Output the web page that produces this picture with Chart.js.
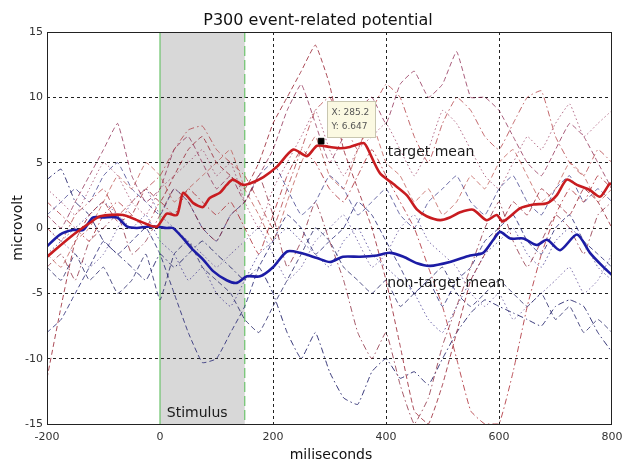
<!DOCTYPE html>
<html>
<head>
<meta charset="utf-8">
<title>P300 event-related potential</title>
<script src="https://cdn.jsdelivr.net/npm/chart.js@4/dist/chart.umd.min.js"></script>
<style>
  html,body{margin:0;padding:0;background:#fff;}
  #wrap{width:623px;height:463px;}
</style>
</head>
<body>
<div id="wrap"><canvas id="erp" width="623" height="463"></canvas></div>
<script>
// ---------- data ----------
const xTicks = [-200, 0, 200, 400, 600, 800];
const yTicks = [-15, -10, -5, 0, 5, 10, 15];
const stimulusWindow = [0, 150];

// single trials sampled every 25 ms
const trialX = [-200,-175,-150,-125,-100,-75,-50,-25,0,25,50,75,100,125,150,175,200,225,250,275,300,
  325,350,375,400,425,450,475,500,525,550,575,600,625,650,675,700,725,750,775,800];

const targetTrial1 = [-11.5,-6,-1,1,2,0.5,1,3,2,4,6,7,5,4,3,5,8,10,12,14,11,6,3,0,-4,-9,-14,-15,-12,-8,-4,-2,0,2,1,3,2,1,3,2,0];
const targetTrial2 = [1,0,2,4,6,8,4,2,3,6,7,5,3,4,2,4,6,9,11,8,5,7,9,10,8,11,12,10,11,13.5,10,10,9,7,5,4,6,8,7,5,3];
const targetTrial3 = [0,-1,1,2,3,1,2,3,4,6,7.5,7.8,6,5,4,2,0,3,6,9,10,8,6,9,11,10,7,5,8,10,9,7,6,8,10,10.5,7,5,4,6,5];
const targetTrial4 = [2,1,0,-1,1,2,1,0,2,1,3,2,1,2,0,-2,1,4,6,5,3,2,4,6,4,2,0,-3,-6,-10,-14,-15,-15,-11,-6,-2,1,3,2,4,3];
const targetTrial5 = [-2,-3,-1,0,2,4,3,5,4,2,3,4,5,6,3,1,-1,2,5,7,4,3,6,8,5,4,2,3,1,2,4,3,5,6,4,2,3,5,4,2,3];
const targetTrial6 = [-3,-2,-4,-1,0,1,-2,-1,1,3,2,0,-1,1,2,4,1,-3,-1,2,-1,-4,-8,-10,-8,-12,-15,-13,-9,-6,-3,0,2,-1,-3,-1,1,0,-2,1,2];
const targetTrial7 = [3,2,1,3,5,4,2,1,3,4,5,6,4,5,2,0,3,5,7,9,6,4,6,7,8,6,4,6,9,8,6,4,3,5,7,6,8,9.5,7,8,9];

const nonTargetTrial1 = [3.7,4.5,2,1,-1,-2,-3,-4,-2,-3,-2,-1,-2,-3,-4,-3,-5,-8,-10,-8,-11,-13,-13.5,-11,-10,-11.5,-11,-12,-10,-8,-6.5,-5.5,-6,-6.5,-7,-7.5,-6,-5.5,-6,-8,-9.5];
const nonTargetTrial2 = [-8,-7,-5,-3,-1,-2,-1,0,-2,-5,-8,-10.3,-10,-8,-6,-3,-1,1,0,-2,-1,0,2,1,-1,-3,-5,-4,-6,-4,-3,-1,0,1,-1,-2,0,1,-1,-2,-3];
const nonTargetTrial3 = [-2,-1,0,1,2,1,0,1,-1,-2,-4,-3,-5,-6,-4,-2,-1,0,-1,-2,-3,-1,0,-2,-3,-4,-5,-7,-8,-6,-4,-2,-1,0,-2,-3,-1,0,-1,-3,-4];
const nonTargetTrial4 = [1,2,3,2,4,5,3,2,1,3,2,0,-1,1,2,4,5,3,1,2,4,3,1,2,3,1,0,2,3,4,2,1,3,4,2,1,3,4,2,3,2];
const nonTargetTrial5 = [-3,-4,-2,-4,-3,-5,-4,-2,-5.5,-2,-1,-3,-4,-5,-7,-8,-6,-4,-2,0,-1,-3,-4,-5,-4,-6,-5,-4,-3,-5,-6,-5,-4,-5,-6,-5,-7,-6,-8,-7,-8];
const nonTargetTrial6 = [0,-1,-2,-3,-2,0,2,3,1,0,-1,-2,-3,-2,-1,0,-2,-4,-3,-1,0,1,-1,-3,-2,0,1,-1,-2,-3,-5,-6,-5,-7,-6,-5,-4,-3,-5,-4,-2];

// grand averages
const targetMeanX = [-200,-159,-124,-106,-65,-35,-6,12,30,41,59,76,88,106,118,129,147,159,183,207,236,260,278,301,319,336,360,366,389,412,437,455,472,496,513,531,554,578,596,607,637,661,685,702,720,738,761,779,796,800];
const targetMeanY = [-2.2,-0.7,0.4,0.9,1.0,0.5,0.1,1.1,1.0,2.7,1.9,1.6,2.3,2.7,3.3,3.7,3.3,3.4,3.9,4.7,6.0,5.5,6.3,6.2,6.1,6.2,6.5,6.2,4.2,3.4,2.5,1.4,0.9,0.6,0.8,1.2,1.4,0.6,1.0,0.5,1.5,1.8,1.9,2.5,3.7,3.3,2.9,2.4,3.4,3.3];
const nonTargetMeanX = [-200,-177,-154,-136,-119,-101,-76,-58,-41,-23,-6,12,23,41,59,76,94,118,136,154,177,200,225,248,278,301,324,354,384,407,431,455,478,513,549,572,590,602,620,643,667,685,708,738,761,785,800];
const nonTargetMeanY = [-1.4,-0.5,-0.15,-0.15,0.8,0.8,0.8,0.1,0,0.1,0.1,0,0,-0.8,-1.7,-2.4,-3.3,-4.0,-4.2,-3.7,-3.7,-3.0,-1.8,-1.9,-2.3,-2.6,-2.2,-2.2,-2.1,-1.9,-2.2,-2.7,-2.9,-2.6,-2.1,-1.9,-0.9,-0.3,-0.8,-0.8,-1.3,-0.9,-1.7,-0.5,-1.9,-3.0,-3.6];

// data tip
const tipX = 285.2, tipY = 6.647;

// ---------- helpers ----------
const FONT = "'DejaVu Sans', 'Liberation Sans', sans-serif";
const pts = (xs, ys) => ys.map((y, i) => ({x: xs[i], y}));
const DASH = [5, 3], DOT = [1.5, 2.5], DASHDOT = [6, 3, 1.5, 3];

function trial(ys, color, dash){
  return {data: pts(trialX, ys), borderColor: color, borderWidth: 1, borderDash: dash,
    pointRadius: 0, tension: 0.12, order: 2};
}

const datasets = [
  trial(targetTrial1, "rgba(150,30,45,0.8)", DASH),
  trial(targetTrial2, "rgba(140,40,80,0.75)", DASH),
  trial(targetTrial3, "rgba(175,55,60,0.75)", DASHDOT),
  trial(targetTrial4, "rgba(165,25,35,0.75)", DASHDOT),
  trial(targetTrial5, "rgba(185,75,70,0.7)", DASH),
  trial(targetTrial6, "rgba(135,35,55,0.75)", DASHDOT),
  trial(targetTrial7, "rgba(150,50,90,0.7)", DOT),
  trial(nonTargetTrial1, "rgba(25,25,100,0.85)", DASHDOT),
  trial(nonTargetTrial2, "rgba(35,35,115,0.8)", DASH),
  trial(nonTargetTrial3, "rgba(60,50,140,0.75)", DOT),
  trial(nonTargetTrial4, "rgba(45,45,130,0.7)", DASH),
  trial(nonTargetTrial5, "rgba(25,25,95,0.75)", DASH),
  trial(nonTargetTrial6, "rgba(80,60,140,0.7)", DOT),
  {data: pts(targetMeanX, targetMeanY), borderColor: "rgb(200,28,32)", borderWidth: 2.6,
    pointRadius: 0, tension: 0.25, order: 1},
  {data: pts(nonTargetMeanX, nonTargetMeanY), borderColor: "rgb(28,28,165)", borderWidth: 2.6,
    pointRadius: 0, tension: 0.25, order: 1},
  {data: [{x: tipX, y: tipY}], showLine: false, pointStyle: "rect", pointRadius: 4,
    backgroundColor: "#000", borderColor: "#000", order: 0}
];

// ---------- decorations: stimulus box, labels, frame ----------
const decor = {
  id: "decor",
  beforeDraw(chart){
    const {ctx, chartArea: a, scales: {x}} = chart;
    const x0 = x.getPixelForValue(stimulusWindow[0]), x1 = x.getPixelForValue(stimulusWindow[1]);
    ctx.save();
    ctx.fillStyle = "#d8d8d8";
    ctx.fillRect(x0, a.top, x1 - x0, a.bottom - a.top);
    ctx.restore();
  },
  beforeDatasetsDraw(chart){
    const {ctx, chartArea: a, scales: {x}} = chart;
    const x0 = x.getPixelForValue(stimulusWindow[0]), x1 = x.getPixelForValue(stimulusWindow[1]);
    ctx.save();
    ctx.strokeStyle = "#6cc36c"; ctx.lineWidth = 1.2;
    ctx.beginPath(); ctx.moveTo(x0, a.top); ctx.lineTo(x0, a.bottom); ctx.stroke();
    ctx.setLineDash([10, 4]);
    ctx.beginPath(); ctx.moveTo(x1, a.top); ctx.lineTo(x1, a.bottom); ctx.stroke();
    ctx.restore();
  },
  afterDraw(chart){
    const {ctx, chartArea: a, scales: {x, y}} = chart;
    ctx.save();
    // frame
    ctx.strokeStyle = "#222"; ctx.lineWidth = 1;
    ctx.strokeRect(a.left + 0.5, a.top + 0.5, a.right - a.left - 1, a.bottom - a.top);
    // in-plot labels
    ctx.fillStyle = "#1a1a1a"; ctx.font = "14px " + FONT;
    ctx.textAlign = "left"; ctx.textBaseline = "middle";
    ctx.fillText("target mean", x.getPixelForValue(403), y.getPixelForValue(5.8));
    ctx.fillText("non-target mean", x.getPixelForValue(402), y.getPixelForValue(-4.2));
    ctx.fillText("Stimulus", x.getPixelForValue(12), y.getPixelForValue(-14.15));
    // data tip box
    const px = x.getPixelForValue(tipX), py = y.getPixelForValue(tipY);
    const bx = Math.round(px + 6) + 0.5, by = Math.round(py - 40) + 0.5;
    ctx.fillStyle = "#fbf9e2"; ctx.strokeStyle = "#c8c6b0";
    ctx.fillRect(bx, by, 48, 36); ctx.strokeRect(bx, by, 48, 36);
    ctx.fillStyle = "#555"; ctx.font = "9px " + FONT;
    ctx.fillText("X: " + tipX, bx + 4, by + 11);
    ctx.fillText("Y: " + tipY, bx + 4, by + 25);
    // titles
    ctx.fillStyle = "#111"; ctx.textAlign = "center";
    ctx.font = "16px " + FONT;
    ctx.fillText("P300 event-related potential", 318, 21);
    ctx.font = "14px " + FONT;
    ctx.fillText("miliseconds", 331, 455);
    ctx.translate(18, (a.top + a.bottom) / 2);
    ctx.rotate(-Math.PI / 2);
    ctx.fillText("microvolt", 0, 0);
    ctx.restore();
  }
};

const gridColor = (edges) => (c) => edges.includes(c.tick.value) ? "rgba(0,0,0,0)" : "#222";

new Chart(document.getElementById("erp"), {
  type: "line",
  data: {datasets},
  plugins: [decor],
  options: {
    responsive: false,
    animation: false,
    parsing: true,
    layout: {padding: {top: 32, right: 11, bottom: 0, left: 0}},
    plugins: {legend: {display: false}, tooltip: {enabled: false}},
    scales: {
      x: {
        type: "linear", min: -200, max: 800,
        afterBuildTicks: s => { s.ticks = xTicks.map(v => ({value: v})); },
        afterFit: s => { s.height = 39; s.paddingLeft = 0; s.paddingRight = 0; },
        grid: {color: gridColor([-200, 0, 800]), lineWidth: 1, drawTicks: false},
        border: {display: false, dash: [3, 3]},
        ticks: {padding: 7, color: "#333", font: {family: FONT, size: 11}, maxRotation: 0}
      },
      y: {
        type: "linear", min: -15, max: 15,
        afterBuildTicks: s => { s.ticks = yTicks.map(v => ({value: v})); },
        afterFit: s => { s.width = 47; s.paddingTop = 0; s.paddingBottom = 0; },
        grid: {color: gridColor([-15, 15]), lineWidth: 1, drawTicks: false},
        border: {display: false, dash: [3, 3]},
        ticks: {padding: 4, color: "#333", font: {family: FONT, size: 11}}
      }
    }
  }
});
</script>
</body>
</html>
